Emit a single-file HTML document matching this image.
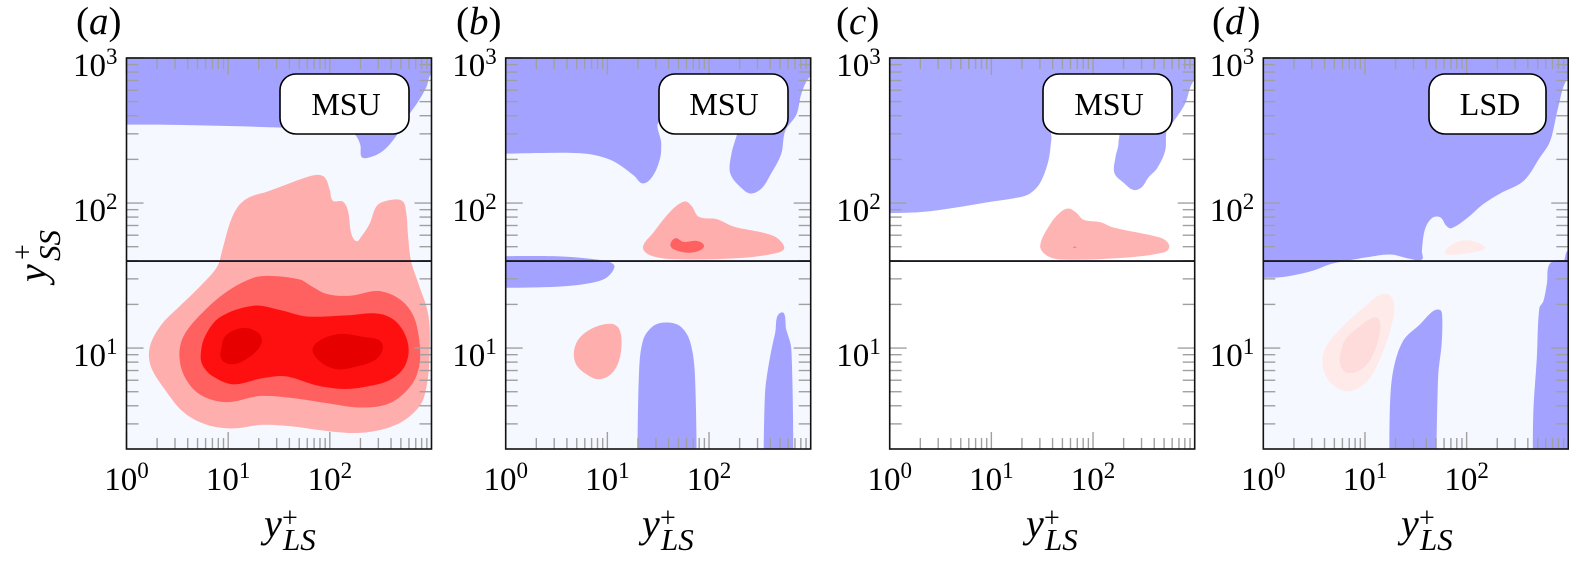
<!DOCTYPE html>
<html lang="en">
<head>
<meta charset="utf-8">
<title>Contour panels</title>
<style>
html,body{margin:0;padding:0;background:#fff;}
svg{display:block;}
text{font-family:"Liberation Serif",serif;fill:#000;}
</style>
</head>
<body>
<svg id="figure" width="1569" height="562" viewBox="0 0 1569 562" xmlns="http://www.w3.org/2000/svg">
  <defs id="clip-defs"></defs>
  <rect x="0" y="0" width="1569" height="562" fill="#fff"/>
  <g id="plots"></g>

  <g font-size="39">
    <text x="76" y="34">(<tspan font-style="italic">a</tspan>)</text>
    <text x="456" y="34">(<tspan font-style="italic">b</tspan>)</text>
    <text x="836" y="34">(<tspan font-style="italic">c</tspan>)</text>
    <text x="1212" y="34">(<tspan font-style="italic">d</tspan><tspan dx="3">)</tspan></text>
  </g>

  <g>
    <g>
      <rect x="280" y="74" width="129" height="60" rx="16" ry="16" fill="#fff" stroke="#000" stroke-width="1.6"/>
      <text x="346" y="115" font-size="32" text-anchor="middle">MSU</text>
    </g>
    <g>
      <rect x="659" y="74" width="129" height="60" rx="16" ry="16" fill="#fff" stroke="#000" stroke-width="1.6"/>
      <text x="724" y="115" font-size="32" text-anchor="middle">MSU</text>
    </g>
    <g>
      <rect x="1043" y="74" width="129" height="60" rx="16" ry="16" fill="#fff" stroke="#000" stroke-width="1.6"/>
      <text x="1109" y="115" font-size="32" text-anchor="middle">MSU</text>
    </g>
    <g>
      <rect x="1429" y="74" width="117" height="60" rx="16" ry="16" fill="#fff" stroke="#000" stroke-width="1.6"/>
      <text x="1490" y="115" font-size="32" text-anchor="middle">LSD</text>
    </g>
  </g>

  <g>
    <g>
      <text x="264" y="537" font-size="40" font-style="italic">y</text>
      <text x="282" y="527" font-size="28">+</text>
      <text x="283" y="550" font-size="31" font-style="italic">LS</text>
    </g>
    <g>
      <text x="642" y="537" font-size="40" font-style="italic">y</text>
      <text x="660" y="527" font-size="28">+</text>
      <text x="661" y="550" font-size="31" font-style="italic">LS</text>
    </g>
    <g>
      <text x="1026" y="537" font-size="40" font-style="italic">y</text>
      <text x="1044" y="527" font-size="28">+</text>
      <text x="1045" y="550" font-size="31" font-style="italic">LS</text>
    </g>
    <g>
      <text x="1401" y="537" font-size="40" font-style="italic">y</text>
      <text x="1419" y="527" font-size="28">+</text>
      <text x="1420" y="550" font-size="31" font-style="italic">LS</text>
    </g>
  </g>

  <g>
    <text transform="translate(46,282) rotate(-90)" font-size="40" font-style="italic">y</text>
    <text transform="translate(32,260) rotate(-90)" font-size="28">+</text>
    <text transform="translate(60,261) rotate(-90)" font-size="31" font-style="italic">SS</text>
  </g>
</svg>

<script>
// Axis definitions (log10 of y+)
var xTickExponents = [0, 1, 2];
var yTickExponents = [1, 2, 3];
var xMinorDecades = [0, 1, 2];
var yMinorDecades = [0, 1, 2];
var minorMultipliers = [2, 3, 4, 5, 6, 7, 8, 9];
var tickBaseLabels = ["10", "10", "10"];
var xTickPowers = ["0", "1", "2"];
var yTickPowers = ["1", "2", "3"];
var xDomain = [0, 3];
var yDomain = [0.304, 3];
var referenceLineExponent = 1.6;

// Contour outlines: [log10(y+_LS), log10(y+_SS)]
var aBlueTop = [[-0.1,2.54],[-0.1,3.1],[3.1,3.1],[3.1,2.89],[3,2.89],[2.95,2.8],[2.87,2.7],[2.78,2.61],[2.66,2.47],[2.57,2.39],[2.48,2.34],[2.36,2.31],[2.31,2.32],[2.3,2.4],[2.25,2.47],[2.16,2.51],[1.54,2.52],[1.05,2.53],[0.39,2.54]];
var aPinkOuter = [[0.22,0.953],[0.25,1.052],[0.36,1.176],[0.52,1.287],[0.72,1.423],[0.89,1.559],[0.94,1.67],[1.02,1.868],[1.1,1.979],[1.21,2.041],[1.38,2.078],[1.57,2.127],[1.71,2.164],[1.87,2.194],[1.95,2.177],[2,2.09],[2.03,2.016],[2.13,2.009],[2.18,1.942],[2.21,1.794],[2.26,1.737],[2.31,1.769],[2.39,1.855],[2.46,1.979],[2.56,2.016],[2.71,2.016],[2.75,1.942],[2.77,1.769],[2.8,1.596],[2.87,1.448],[2.97,1.225],[2.98,0.928],[2.95,0.731],[2.89,0.607],[2.72,0.496],[2.49,0.434],[2.23,0.414],[1.9,0.434],[1.64,0.459],[1.34,0.471],[1.05,0.446],[0.79,0.471],[0.56,0.558],[0.36,0.731],[0.25,0.854]];
var aPinkMid = [[0.52,0.95],[0.56,1.08],[0.72,1.225],[0.98,1.386],[1.25,1.485],[1.44,1.497],[1.71,1.472],[1.8,1.435],[1.97,1.373],[2.2,1.361],[2.48,1.393],[2.69,1.336],[2.82,1.225],[2.88,1.052],[2.88,0.879],[2.8,0.743],[2.59,0.62],[2.3,0.59],[1.97,0.62],[1.61,0.657],[1.31,0.669],[0.98,0.627],[0.72,0.681],[0.57,0.805]];
var aRed = [[0.73,0.95],[0.77,1.077],[0.92,1.213],[1.25,1.292],[1.51,1.262],[1.77,1.218],[2.16,1.225],[2.48,1.237],[2.66,1.176],[2.77,1.027],[2.74,0.879],[2.59,0.78],[2.33,0.731],[2.13,0.718],[1.87,0.743],[1.57,0.805],[1.34,0.793],[1.05,0.75],[0.85,0.805],[0.75,0.879]];
var aCoreLeft = [[0.93,0.99],[0.98,1.089],[1.16,1.139],[1.3,1.102],[1.33,1.04],[1.26,0.966],[1.11,0.899],[1,0.891],[0.93,0.928]];
var aCoreRight = [[1.83,0.983],[1.9,1.052],[2.1,1.097],[2.33,1.077],[2.49,1.052],[2.52,0.99],[2.44,0.916],[2.23,0.867],[2.07,0.854],[1.92,0.899]];

var bBlueTop = [[-0.1,2.338],[-0.1,3.1],[3.1,3.1],[3.1,2.9],[2.99,2.869],[2.91,2.758],[2.86,2.61],[2.75,2.498],[2.71,2.338],[2.6,2.19],[2.52,2.103],[2.42,2.066],[2.34,2.09],[2.21,2.202],[2.22,2.338],[2.27,2.461],[2.31,2.56],[1.52,2.56],[1.53,2.412],[1.52,2.313],[1.45,2.19],[1.35,2.135],[1.26,2.19],[1.06,2.288],[0.86,2.333],[0.67,2.345],[0.34,2.345]];
var bBlueStrip = [[-0.1,1.633],[0.5,1.633],[0.83,1.616],[1.03,1.591],[1.07,1.559],[0.99,1.485],[0.83,1.448],[0.5,1.423],[-0.1,1.415]];
var bBlueColumnLeft = [[1.295,0.1],[1.31,0.805],[1.35,1.052],[1.45,1.151],[1.58,1.176],[1.715,1.151],[1.81,1.052],[1.86,0.83],[1.88,0.1]];
var bBlueColumnRight = [[2.535,0.1],[2.55,0.681],[2.585,0.879],[2.65,1.102],[2.71,1.245],[2.76,1.126],[2.81,0.99],[2.83,0.1]];
var bPinkUpper = [[1.35,1.695],[1.45,1.794],[1.62,1.942],[1.76,2.011],[1.83,1.979],[1.9,1.905],[2.08,1.888],[2.24,1.838],[2.63,1.774],[2.74,1.695],[2.68,1.658],[2.31,1.621],[1.65,1.613],[1.42,1.64]];
var bPinkCore = [[1.62,1.715],[1.67,1.757],[1.75,1.732],[1.88,1.739],[1.95,1.707],[1.9,1.67],[1.78,1.658],[1.65,1.682]];
var bPinkLower = [[0.67,0.966],[0.72,1.064],[0.86,1.139],[1.03,1.168],[1.11,1.139],[1.14,1.04],[1.11,0.904],[1.03,0.817],[0.91,0.785],[0.8,0.817],[0.7,0.879]];

var cBlueTop = [[-0.1,1.93],[-0.1,3.1],[3.1,3.1],[3.1,2.9],[2.98,2.832],[2.905,2.684],[2.79,2.56],[2.725,2.498],[2.71,2.362],[2.63,2.239],[2.545,2.177],[2.48,2.11],[2.4,2.09],[2.3,2.14],[2.21,2.207],[2.22,2.313],[2.25,2.412],[2.23,2.548],[1.61,2.548],[1.59,2.436],[1.56,2.288],[1.48,2.14],[1.38,2.066],[1.25,2.036],[0.95,2.004],[0.63,1.967],[0.3,1.937]];
var cPink = [[1.48,1.707],[1.58,1.856],[1.68,1.937],[1.76,1.962],[1.84,1.93],[1.905,1.885],[2.07,1.868],[2.2,1.831],[2.59,1.774],[2.71,1.744],[2.75,1.695],[2.69,1.658],[2.27,1.621],[1.68,1.611],[1.54,1.64]];
var cPinkSpot = [[1.805,1.695],[1.82,1.699],[1.835,1.695],[1.82,1.691]];

var dBlueTop = [[-0.1,1.485],[-0.1,3.1],[3.1,3.1],[3.1,2.9],[2.98,2.844],[2.9,2.659],[2.82,2.424],[2.72,2.313],[2.56,2.152],[2.33,2.066],[2.16,1.991],[2,1.893],[1.85,1.826],[1.8,1.843],[1.74,1.902],[1.66,1.897],[1.59,1.818],[1.56,1.67],[1.56,1.611],[1.44,1.616],[1.25,1.645],[1.02,1.626],[0.82,1.601],[0.66,1.579],[0.49,1.534],[0.26,1.497],[0.1,1.485]];
var dBlueColumn = [[1.24,0.1],[1.246,0.607],[1.28,0.854],[1.377,1.052],[1.54,1.163],[1.67,1.255],[1.74,1.262],[1.76,1.213],[1.754,1.027],[1.72,0.805],[1.7,0.1]];
var dBlueRight = [[2.65,0.1],[2.656,0.558],[2.69,0.928],[2.715,1.275],[2.755,1.324],[2.79,1.448],[2.82,1.584],[2.95,1.601],[2.98,1.658],[3.02,1.695],[3.2,1.695],[3.2,0.1]];
var dPaleOuter = [[0.58,0.904],[0.62,1.015],[0.82,1.176],[1.02,1.299],[1.15,1.368],[1.25,1.361],[1.29,1.275],[1.25,1.126],[1.15,0.928],[1.02,0.768],[0.84,0.701],[0.69,0.743],[0.61,0.817]];
var dPaleInner = [[0.754,0.941],[0.8,1.052],[0.95,1.151],[1.1,1.213],[1.15,1.176],[1.13,1.052],[1.05,0.916],[0.935,0.842],[0.82,0.83],[0.76,0.879]];
var dPaleUpper = [[1.79,1.67],[1.87,1.72],[2,1.744],[2.13,1.72],[2.18,1.69],[2.1,1.665],[1.9,1.645],[1.8,1.645]];

var panels = [
  { id: "a", left: 126.5, background: "#f6f8ff", contours: [
    { name: "blue-region-top", points: aBlueTop, fill: "#a3a3ff" },
    { name: "pink-contour-outer", points: aPinkOuter, fill: "#ffaeae" },
    { name: "pink-contour-mid", points: aPinkMid, fill: "#ff6060" },
    { name: "red-contour", points: aRed, fill: "#ff1010" },
    { name: "dark-red-core-left", points: aCoreLeft, fill: "#e60000" },
    { name: "dark-red-core-right", points: aCoreRight, fill: "#e60000" }
  ]},
  { id: "b", left: 505.7, background: "#f6f8ff", contours: [
    { name: "blue-region-top", points: bBlueTop, fill: "#a3a3ff" },
    { name: "blue-region-strip", points: bBlueStrip, fill: "#a3a3ff" },
    { name: "blue-column-left", points: bBlueColumnLeft, fill: "#a3a3ff" },
    { name: "blue-column-right", points: bBlueColumnRight, fill: "#a3a3ff" },
    { name: "pink-contour-upper", points: bPinkUpper, fill: "#ffaeae" },
    { name: "pink-contour-core", points: bPinkCore, fill: "#ff6060" },
    { name: "pink-contour-lower", points: bPinkLower, fill: "#ffaeae" }
  ]},
  { id: "c", left: 889.7, background: "#ffffff", contours: [
    { name: "blue-region-top", points: cBlueTop, fill: "#a9a9ff" },
    { name: "pink-contour", points: cPink, fill: "#ffb4b4" },
    { name: "pink-contour-spot", points: cPinkSpot, fill: "#ff7070" }
  ]},
  { id: "d", left: 1263.3, background: "#f6f8ff", contours: [
    { name: "blue-region-top", points: dBlueTop, fill: "#a3a3ff" },
    { name: "blue-column", points: dBlueColumn, fill: "#a3a3ff" },
    { name: "blue-region-right", points: dBlueRight, fill: "#a3a3ff" },
    { name: "pale-contour-outer", points: dPaleOuter, fill: "#ffeaea" },
    { name: "pale-contour-inner", points: dPaleInner, fill: "#ffdcdc" },
    { name: "pale-contour-upper", points: dPaleUpper, fill: "#ffeaea" }
  ]}
];

var NS = "http://www.w3.org/2000/svg";
var plotTop = 58, plotBottom = 449, plotWidth = 305;

function makeX(left) {
  return function (v) {
    return left + (v - xDomain[0]) / (xDomain[1] - xDomain[0]) * plotWidth;
  };
}
function yScale(v) {
  return plotBottom - (v - yDomain[0]) / (yDomain[1] - yDomain[0]) * (plotBottom - plotTop);
}
function svgEl(tag) {
  return document.createElementNS(NS, tag);
}
function isOutside(d) {
  return d[0] < xDomain[0] || d[0] > xDomain[1] || d[1] < yDomain[0] || d[1] > yDomain[1];
}
function smoothPath(points, xScale) {
  var p = points.map(function (d) { return [xScale(d[0]), yScale(d[1])]; });
  var n = p.length, dirs = [];
  for (var i = 0; i < n; i++) {
    var a = p[(i - 1 + n) % n], b = p[(i + 1) % n];
    var dx = b[0] - a[0], dy = b[1] - a[1], len = Math.hypot(dx, dy) || 1;
    // Points beyond the plot area are sharp corners so edges run straight out of the frame
    if (isOutside(points[i])) {
      dirs.push([0, 0]);
    } else {
      dirs.push([dx / len, dy / len]);
    }
  }
  var d = "M" + p[0][0].toFixed(2) + " " + p[0][1].toFixed(2);
  for (var j = 0; j < n; j++) {
    var k = (j + 1) % n;
    var seg = Math.hypot(p[k][0] - p[j][0], p[k][1] - p[j][1]) * 0.33;
    d += "C" + (p[j][0] + dirs[j][0] * seg).toFixed(2) + " " + (p[j][1] + dirs[j][1] * seg).toFixed(2) +
         " " + (p[k][0] - dirs[k][0] * seg).toFixed(2) + " " + (p[k][1] - dirs[k][1] * seg).toFixed(2) +
         " " + p[k][0].toFixed(2) + " " + p[k][1].toFixed(2);
  }
  return d + "Z";
}
function addLine(parent, x1, y1, x2, y2, stroke, width) {
  var l = svgEl("line");
  l.setAttribute("x1", x1);
  l.setAttribute("y1", y1);
  l.setAttribute("x2", x2);
  l.setAttribute("y2", y2);
  l.setAttribute("stroke", stroke);
  l.setAttribute("stroke-width", width);
  parent.appendChild(l);
  return l;
}
function addPowerLabel(parent, base, power, x, y, anchorEnd) {
  var t = svgEl("text");
  t.setAttribute("x", x);
  t.setAttribute("y", y);
  t.setAttribute("font-size", "33");
  t.setAttribute("text-anchor", anchorEnd ? "end" : "middle");
  t.appendChild(document.createTextNode(base));
  var s = svgEl("tspan");
  s.setAttribute("font-size", "23");
  s.setAttribute("dy", "-12");
  s.textContent = power;
  t.appendChild(s);
  parent.appendChild(t);
  return t;
}

var plotsRoot = document.getElementById("plots");
var defsRoot = document.getElementById("clip-defs");

panels.forEach(function (panel) {
  var xScale = makeX(panel.left);
  var left = xScale(xDomain[0]), right = xScale(xDomain[1]);

  var clip = svgEl("clipPath");
  clip.setAttribute("id", "clip-" + panel.id);
  var clipRect = svgEl("rect");
  clipRect.setAttribute("x", left);
  clipRect.setAttribute("y", plotTop);
  clipRect.setAttribute("width", right - left);
  clipRect.setAttribute("height", plotBottom - plotTop);
  clip.appendChild(clipRect);
  defsRoot.appendChild(clip);

  var group = svgEl("g");
  
  
  plotsRoot.appendChild(group);

  var bg = svgEl("rect");
  bg.setAttribute("x", left);
  bg.setAttribute("y", plotTop);
  bg.setAttribute("width", right - left);
  bg.setAttribute("height", plotBottom - plotTop);
  bg.setAttribute("fill", panel.background);
  
  
  group.appendChild(bg);

  var marks = svgEl("g");
  marks.setAttribute("clip-path", "url(#clip-" + panel.id + ")");
  
  
  group.appendChild(marks);

  panel.contours.forEach(function (c) {
    var path = svgEl("path");
    path.setAttribute("d", smoothPath(c.points, xScale));
    path.setAttribute("fill", c.fill);
    
    
    marks.appendChild(path);
  });

  var ticks = svgEl("g");
  
  
  group.appendChild(ticks);
  var tickColor = "#a0a0a0", tickWidth = 1.4, majorLen = 17, minorLen = 11;

  xMinorDecades.forEach(function (dec) {
    minorMultipliers.forEach(function (m) {
      var px = xScale(dec + Math.log10(m));
      addLine(ticks, px, plotBottom, px, plotBottom - minorLen, tickColor, tickWidth);
      addLine(ticks, px, plotTop, px, plotTop + minorLen, tickColor, tickWidth);
    });
  });
  xTickExponents.forEach(function (e) {
    var px = xScale(e);
    addLine(ticks, px, plotBottom, px, plotBottom - majorLen, tickColor, tickWidth);
    addLine(ticks, px, plotTop, px, plotTop + majorLen, tickColor, tickWidth);
  });
  yMinorDecades.forEach(function (dec) {
    minorMultipliers.forEach(function (m) {
      var v = dec + Math.log10(m);
      if (v < yDomain[0] || v > yDomain[1]) return;
      var py = yScale(v);
      addLine(ticks, left, py, left + minorLen + 1, py, tickColor, tickWidth);
      addLine(ticks, right, py, right - minorLen - 1, py, tickColor, tickWidth);
    });
  });
  yTickExponents.forEach(function (e) {
    var py = yScale(e);
    addLine(ticks, left, py, left + majorLen, py, tickColor, tickWidth);
    addLine(ticks, right, py, right - majorLen, py, tickColor, tickWidth);
  });

  var refLine = addLine(group, left, yScale(referenceLineExponent), right, yScale(referenceLineExponent), "#1a1a22", 1.8);
  
  

  var frame = svgEl("rect");
  frame.setAttribute("x", left);
  frame.setAttribute("y", plotTop);
  frame.setAttribute("width", right - left);
  frame.setAttribute("height", plotBottom - plotTop);
  frame.setAttribute("fill", "none");
  frame.setAttribute("stroke", "#111");
  frame.setAttribute("stroke-width", "1.6");
  
  
  group.appendChild(frame);

  xTickExponents.forEach(function (e, i) {
    var label = addPowerLabel(group, tickBaseLabels[i], xTickPowers[i], xScale(e), 490, false);
    
    
  });
  yTickExponents.forEach(function (e, i) {
    var label = addPowerLabel(group, tickBaseLabels[i], yTickPowers[i], left - 9, yScale(e) + 18, true);
    
    
  });
});
</script>
</body>
</html>
